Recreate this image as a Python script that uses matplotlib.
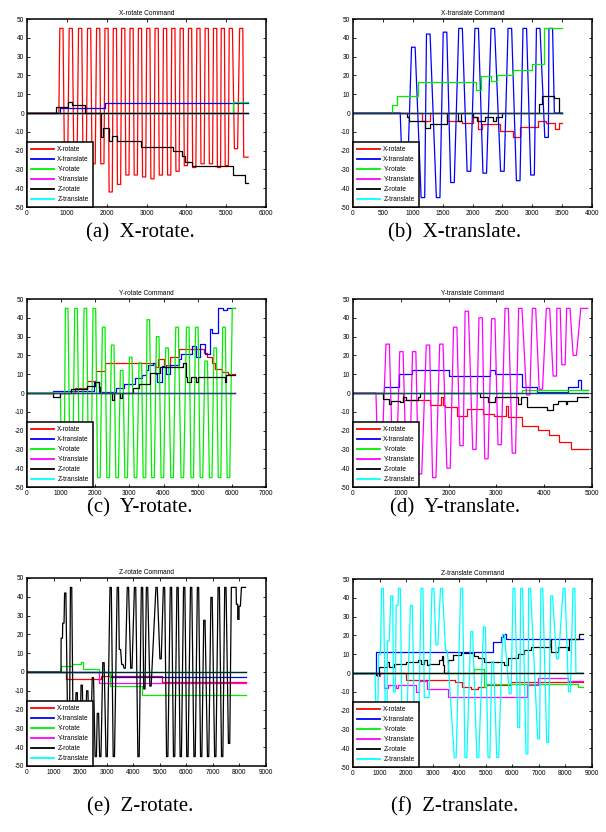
import numpy as np
import matplotlib
matplotlib.use('Agg')
import matplotlib.pyplot as plt

plt.rcParams['font.family'] = ['Liberation Sans', 'DejaVu Sans']
plt.rcParams['axes.unicode_minus'] = False

labels = ['X-rotate', 'X-translate', 'Y-rotate', 'Y-translate', 'Z-rotate', 'Z-translate']
colors = ['#ff0000', '#0000ff', '#00ee00', '#ff00ff', '#000000', '#00ffff']

# ---------------- (a) X-rotate command ----------------
a_end = 5550
a_xrot_t = [864, 981, 1099, 1216, 1334, 1447, 1560, 1673, 1787, 1892, 1997, 2101, 2206, 2311, 2416,
            2521, 2626, 2731, 2836, 2940, 3045, 3150, 3255, 3360, 3465, 3570, 3674, 3779, 3884, 3989,
            4094, 4199, 4304, 4408, 4513, 4618, 4723, 4820, 4916, 5016, 5117, 5247, 5378, 5480]
a_xrot_v = [45, -27, 45, -27, 45, -27, 45, -27, 45, -27, 45, -42, 45, -38, 45, -33, 45, -33, 45, -34,
            45, -35, 45, -33, 45, -33, 45, -31, 45, -28, 45, -29, 45, -27, 45, -27, 45, -29, 45, -28,
            45, -19, 45, -23.5]
a_xtr_t = [0, 830, 1950, 5550]
a_xtr_v = [0, 2.5, 5.5, 5.5]
a_yrot_t = [0, 5180, 5550]
a_yrot_v = [0, 6, 6]
a_zrot_t = [0, 720, 1030, 1130, 1450, 1850, 1905, 2060, 2130, 2260, 2860, 3675, 3885, 3970, 4135,
            5160, 5470, 5550]
a_zrot_v = [0, 3, 6, 4, 0, -13, -8, -15, -12, -15, -18, -20, -23, -26, -28, -33, -37, -37]

# ---------------- (b) X-translate command ----------------
b_end = 3500
b_xtr_t = [870, 1010, 1170, 1260, 1425, 1540, 1665, 1800, 1940, 2070, 2205, 2340, 2500, 2625, 2765,
           2875, 3005, 3100, 3240, 3310, 3400]
b_xtr_v = [-45, 35, -45, 42, -45, 43, -37, 45, -31, 45, -32, 45, -31, 45, -36, 45, -33, 45, -13, 45, 0]
b_xrot_t = [0, 1150, 1290, 1570, 1820, 2010, 2100, 2160, 2460, 2670, 2800, 3100, 3230, 3380, 3440, 3500]
b_xrot_v = [0, -4.5, 0, -4.5, -5.5, -2, -8.5, -6, -9.5, -13, -7.5, -4.5, -5.5, -8.5, -5.5, -5.5]
b_yrot_t = [0, 660, 730, 1080, 2060, 2140, 2310, 2410, 2680, 3000, 3200, 3500]
b_yrot_v = [0, 4.5, 9, 16.5, 12, 19.5, 17, 20, 23, 26, 45, 45]
b_zrot_t = [0, 900, 940, 1200, 1290, 1570, 1760, 1800, 2010, 2070, 2210, 2350, 2390, 2490, 3110,
            3170, 3360, 3450, 3500]
b_zrot_v = [0, -2, -4, -8, -6, 0, -4, 0, -2, -4, -2, -4, -2, 0, 5, 9, 8, 0, 0]

# ---------------- (c) Y-rotate command ----------------
c_end = 6100
c_yrot_t = [1050, 1162, 1300, 1436, 1572, 1709, 1840, 1973, 2105, 2246, 2378, 2510, 2640, 2773, 2905,
            3037, 3180, 3320, 3440, 3553, 3690, 3828, 3965, 4101, 4250, 4395, 4550, 4709, 4840, 4973,
            5110, 5247, 5380, 5512, 5640, 5770, 5900, 6050]
c_yrot_v = [-45, 45, -45, 45, -45, 45, -45, 45, -45, 35, -45, 25.5, -45, 12, -45, 19, -45, 16, -45, 39,
            -45, 30, -45, 24, -45, 35, -45, 35, -45, 35, -45, 17, -45, 24, -45, 35, -45, 45]
c_xrot_t = [0, 1400, 1750, 2020, 2285, 3750, 3850, 4000, 4190, 4440, 5170, 5270, 5410, 5510, 5710, 5900, 6100]
c_xrot_v = [0, 2.5, 6.5, 11.5, 16, 14, 18, 15, 19, 23.5, 21.5, 19, 16, 13, 11, 10, 10]
c_xtr_t = [0, 770, 1950, 2100, 2600, 2850, 3160, 3360, 3480, 3550, 3700, 3760, 3810, 3950, 4060, 4190,
           4440, 4500, 4840, 4940, 5060, 5200, 5360, 5430, 5600, 5750, 5850, 6100]
c_xtr_v = [0, 0.8, 6, 0.5, 2.5, 5, 8, 9.5, 12.5, 15, 16, 10, 6, 14.5, 10, 15, 18, 20.5, 25, 19, 26, 21,
           34, 32, 45, 44, 45, 45]
c_zrot_t = [0, 770, 980, 1300, 1750, 2000, 2100, 2150, 2480, 2540, 2730, 2790, 3100, 3280, 3600, 3900,
            4560, 4660, 4700, 4800, 4960, 5000, 5790, 5840, 6100]
c_zrot_v = [0, -2, 0, 2, 3.5, 6, 3, 0, -3.5, 0, -2.5, 0, 2.5, 5, 10.5, 14, 16, 8.5, 5.7, 8.5, 5.7, 8.5,
            5.7, 9.5, 9.5]

# ---------------- (d) Y-translate command ----------------
d_end = 4909
d_ytr_t = [560, 725, 870, 1013, 1150, 1280, 1403, 1568, 1700, 1848, 1999, 2139, 2270, 2380, 2540, 2670,
           2791, 2935, 3068, 3215, 3366, 3500, 3665, 3787, 3930, 4080, 4222, 4300, 4404, 4505, 4640, 4800]
d_ytr_v = [-40, 26, -42, 22, -42, 22, -43, 25.5, -45, 26, -40, 35, -28, 43.5, -30, 40, -35, 39.5, -27.5,
           45, -32, 45, -1, 45, 2, 45, 9, 45, 15, 45, 20, 45]
d_xrot_t = [0, 1050, 1610, 1840, 1880, 1930, 2170, 2380, 2730, 2940, 3200, 3250, 3540, 3860, 4100, 4310,
            4560, 4909]
d_xrot_v = [0, -3.5, -6.5, -2, -6.5, -7.5, -12, -8.5, -11, -12, -7, -13, -17.5, -19.5, -22.5, -26, -30, -30]
d_xtr_t = [0, 650, 970, 1233, 1999, 2876, 2980, 3541, 3857, 4500, 4700, 4760, 4909]
d_xtr_v = [0, 3, 10, 12.5, 9, 12.5, 10, 3, 0.5, 3, 7, 1.5, 1.5]
d_yrot_t = [0, 3541, 4909]
d_yrot_v = [0, 1.5, 1.5]
d_zrot_t = [0, 620, 760, 800, 980, 1040, 1100, 1350, 1400, 2650, 2830, 2980, 3450, 3520, 3640, 4050,
            4180, 4280, 4450, 4480, 4680, 4909]
d_zrot_v = [0, -3, -6, -4.5, -5, -2, -3.5, -2, 0, -2, -5, -2, -6, -2, -7.5, -9, -6, -4.5, -6, -4, -2, -2]

# ---------------- (e) Z-rotate command ----------------
e_end = 8230
e_zrot_t = [1310, 1370, 1440, 1570, 1660, 1770, 1870, 1960, 2060, 2150, 2270, 2370, 2480, 2590, 2670,
            2760, 2880, 3000, 3150, 3270, 3420, 3500, 3590, 3680, 3800, 3930, 4070, 4200, 4330, 4420,
            4520, 4650, 4880, 5030, 5160, 5280, 5420, 5540, 5670, 5790, 5920, 6040, 6180, 6310, 6440,
            6560, 6680, 6820, 6950, 7090, 7220, 7350, 7470, 7610, 7720, 7850, 7910, 7960, 8010, 8100]
e_zrot_v = [18, 26, 42, -45, 45, -45, -11, -45, -7, -45, -10, -45, -3, -45, -22, -45, 5, -45, 45, -45,
            45, 12, 4, 2, 45, 2, 45, -45, 45, -9, 45, -7.5, 45, 7, 45, -45, 45, -45, 45, -45,
            45, -45, 45, -45, 45, -45, 27.5, -45, 39.7, -45, 45, -45, 45, -38, 45, 45, 36, 28, 35, 45]
e_xrot_t = [0, 1450, 2780, 5080, 8230]
e_xrot_v = [0, -3.5, -2, -5.5, -5.5]
e_xtr_t = [0, 3120, 8230]
e_xtr_v = [0, -2.5, -2.5]
e_yrot_t = [0, 1290, 1700, 2050, 2110, 2700, 3130, 4330, 8230]
e_yrot_v = [0, 3, 4.5, 5.5, 1.5, 0, -7.5, -12, -12]
e_ytr_t = [0, 2720, 8230]
e_ytr_v = [0, -6, -6]

# ---------------- (f) Z-translate command ----------------
f_end = 8650
f_ztr_t = [900, 1000, 1110, 1250, 1330, 1460, 1560, 1660, 1750, 1870, 2000, 2200, 2340, 2450, 2600,
           2720, 2830, 3010, 3160, 3330, 3520, 3850, 4090, 4250, 4470, 4700, 4950, 5120, 5260, 5450,
           5670, 5920, 6060, 6240, 6350, 6550, 6650, 6990, 7110, 7330, 7480, 7700, 7950, 8150, 8320, 8430]
f_ztr_v = [-20, 10, 45, -20, 17, 41, -10, 36, 45, -20, -20, 36, -20, -20, 45, -13, -13, 45, 15, 45,
           12, -45, 45, -45, 22, -45, 24.5, -45, 6, -45, 20.5, -11, 45, -29, 45, -43, 45, -35, 45, -37,
           41, 7.5, 45, -10, 45, 0]
f_xrot_t = [0, 2000, 3850, 4100, 4450, 4700, 5000, 5950, 8650]
f_xrot_v = [0, -3.5, -5, -7.5, -8.5, -7.5, -6.5, -5, -5]
f_xtr_t = [0, 860, 5270, 5580, 5650, 5750, 8650]
f_xtr_v = [0, 11, 16.3, 19, 20.5, 18, 18]
f_yrot_t = [0, 4570, 4920, 4990, 8460, 8650]
f_yrot_v = [0, 2, -7.5, -6, -7.5, -7.5]
f_ytr_t = [0, 900, 1000, 1180, 1300, 1620, 1690, 2380, 2480, 2780, 3590, 6540, 6950, 8100, 8650]
f_ytr_v = [0, -1.5, 0, -8, -6.5, -8, -6.5, -10, -4.5, -8.5, -13, -6.5, -2.5, -4.5, -4.5]
f_zrot_t = [0, 860, 990, 1280, 1370, 1560, 2000, 2430, 2560, 2680, 2790, 2870, 3250, 3340, 3400, 3440,
            3560, 3750, 4070, 4570, 4700, 4950, 5700, 5830, 6200, 6450, 6700, 7400, 7460, 7730, 8080,
            8150, 8500, 8650]
f_zrot_v = [0, -1, 3.4, 6, 3.4, 5, 6, 7, 5, 7, 4, 5, 7, 9, 4.5, 0, 7, 9.7, 10.5, 8.8, 8, 6, 4, 7.8, 10,
            12.5, 14, 18, 11, 14, 12, 18, 21, 21]


def wave(start, t, v, end, w):
    # flat at zero until start, then plateaus of half-width w at each (t, v)
    xs = [0, start]
    ys = [0, 0]
    for ti, vi in zip(t, v):
        xs += [ti - w, ti + w]
        ys += [vi, vi]
    xs.append(end)
    ys.append(v[-1])
    return xs, ys


def step(t, v):
    xs, ys = [], []
    for i in range(len(t) - 1):
        xs += [t[i], t[i + 1]]
        ys += [v[i], v[i]]
    return xs, ys


def zero(end):
    return [0, end], [0, 0]


panels = [
    dict(title='X-rotate Command', xmax=6000, xstep=1000, end=a_end, zc='#000000',
         cap='(a)  X-rotate.', pos=[27, 19], capxy=(140, 233),
         series=[wave(800, a_xrot_t, a_xrot_v, a_end, 40), step(a_xtr_t, a_xtr_v),
                 step(a_yrot_t, a_yrot_v), zero(a_end), step(a_zrot_t, a_zrot_v), zero(a_end)]),
    dict(title='X-translate Command', xmax=4000, xstep=500, end=b_end, zc='#1c3440',
         cap='(b)  X-translate.', pos=[353, 19], capxy=(455, 233),
         series=[step(b_xrot_t, b_xrot_v), wave(790, b_xtr_t, b_xtr_v, b_end, 30),
                 step(b_yrot_t, b_yrot_v), zero(b_end), step(b_zrot_t, b_zrot_v), zero(b_end)]),
    dict(title='Y-rotate Command', xmax=7000, xstep=1000, end=c_end, zc='#1f4a5a',
         cap='(c)  Y-rotate.', pos=[27, 299], capxy=(140, 508),
         series=[step(c_xrot_t, c_xrot_v), step(c_xtr_t, c_xtr_v),
                 wave(980, c_yrot_t, c_yrot_v, c_end, 38), zero(c_end), step(c_zrot_t, c_zrot_v),
                 zero(c_end)]),
    dict(title='Y-translate Command', xmax=5000, xstep=1000, end=d_end, zc='#164a4c',
         cap='(d)  Y-translate.', pos=[353, 299], capxy=(455, 508),
         series=[step(d_xrot_t, d_xrot_v), step(d_xtr_t, d_xtr_v), step(d_yrot_t, d_yrot_v),
                 wave(480, d_ytr_t, d_ytr_v, d_end, 35), step(d_zrot_t, d_zrot_v), zero(d_end)]),
    dict(title='Z-rotate Command', xmax=9000, xstep=1000, end=e_end, zc='#0a2626',
         cap='(e)  Z-rotate.', pos=[27, 578], capxy=(140, 807),
         series=[step(e_xrot_t, e_xrot_v), step(e_xtr_t, e_xtr_v), step(e_yrot_t, e_yrot_v),
                 step(e_ytr_t, e_ytr_v), wave(1280, e_zrot_t, e_zrot_v, e_end, 25), zero(e_end)]),
    dict(title='Z-translate Command', xmax=9000, xstep=1000, end=f_end, zc='#000000',
         cap='(f)  Z-translate.', pos=[353, 579], capxy=(455, 807),
         series=[step(f_xrot_t, f_xrot_v), step(f_xtr_t, f_xtr_v), step(f_yrot_t, f_yrot_v),
                 step(f_ytr_t, f_ytr_v), step(f_zrot_t, f_zrot_v),
                 wave(830, f_ztr_t, f_ztr_v, f_end, 35)]),
]

W, H = 606, 832
fig = plt.figure(figsize=(W / 100, H / 100), dpi=100)
fs = 4.7

for p in panels:
    x0, y0 = p['pos']
    ax = fig.add_axes([x0 / W, 1 - (y0 + 188) / H, 239 / W, 188 / H])
    handles = []
    for (xs, ys), c, lab in zip(p['series'], colors, labels):
        h, = ax.plot(xs, ys, color=c, lw=0.9, label=lab)
        handles.append(h)
    zx, zy = zero(p['end'])
    ax.plot(zx, zy, color=p['zc'], lw=1.0)
    ax.set_xlim(0, p['xmax'])
    ax.set_ylim(-50, 50)
    ax.set_xticks(np.arange(0, p['xmax'] + 1, p['xstep']))
    ax.set_yticks(np.arange(-50, 51, 10))
    ax.tick_params(direction='in', top=True, right=True, length=2.2, width=0.6,
                   labelsize=fs, pad=2)
    for s in ax.spines.values():
        s.set_linewidth(1.1)
    ax.set_title(p['title'], fontsize=fs, pad=3)
    leg = ax.legend(handles, labels, loc='lower left', fontsize=fs, fancybox=False,
                    borderaxespad=0, handlelength=3.6, handletextpad=0.45,
                    labelspacing=0.45, borderpad=0.6, framealpha=1)
    for lh in leg.get_lines():
        lh.set_linewidth(1.3)
    leg.get_frame().set_edgecolor('black')
    leg.get_frame().set_linewidth(1.1)
    cx, cy = p['capxy']
    fig.text(cx / W, 1 - cy / H, p['cap'], ha='center', va='center',
             family='Liberation Serif', fontsize=15)

fig.savefig('out.png', dpi=100)
